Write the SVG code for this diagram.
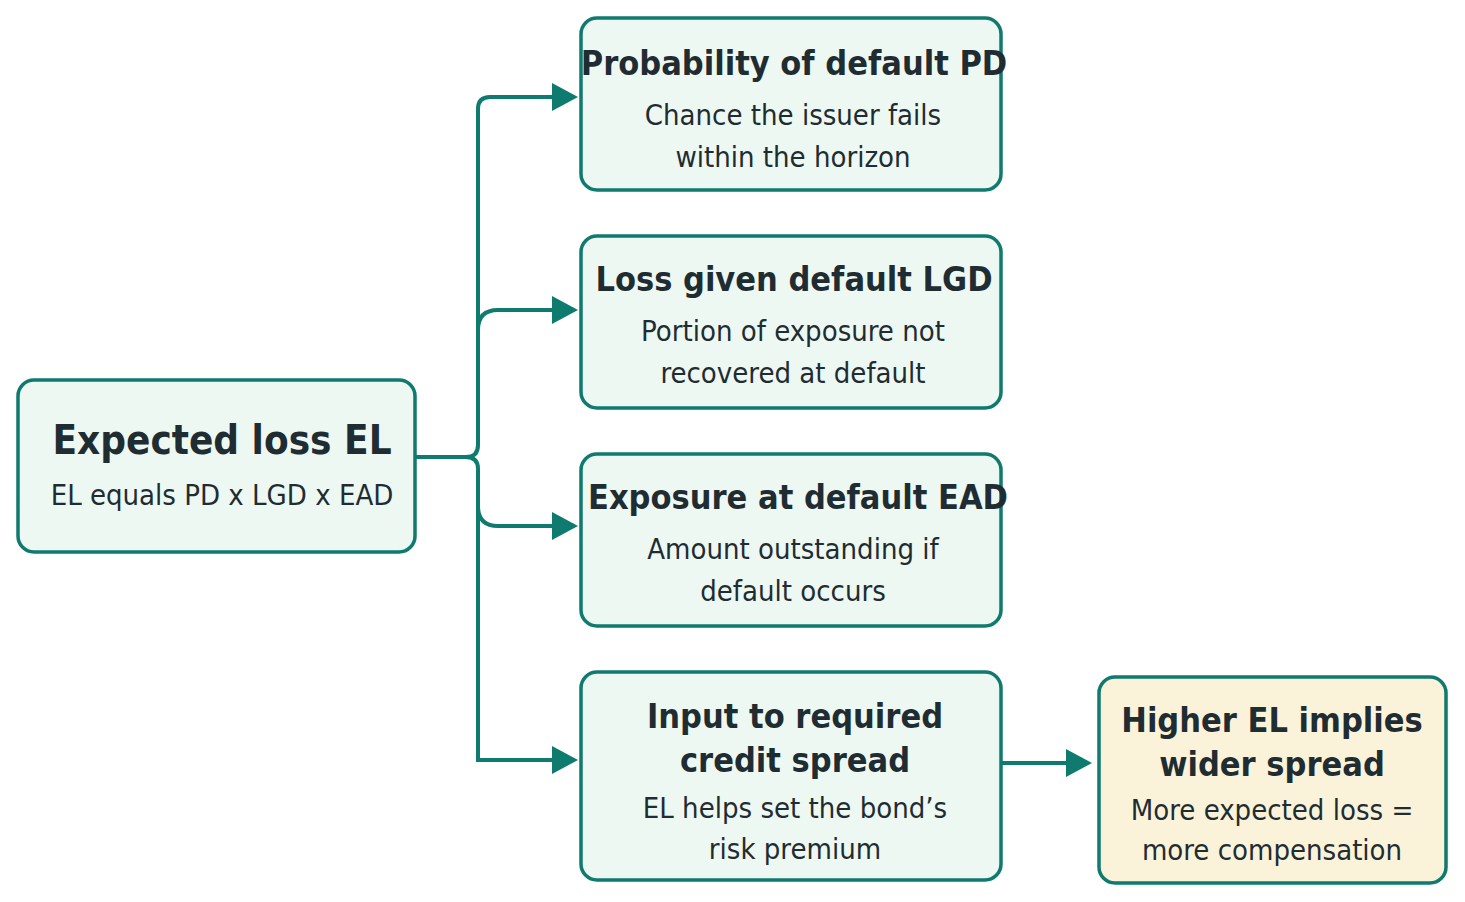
<svg xmlns="http://www.w3.org/2000/svg" width="1465" height="902" viewBox="0 0 1465 902">
<style>
.n{fill:#eef8f2;stroke:#0f7a6e;stroke-width:3.5}
.y{fill:#fbf3d9;stroke:#0f7a6e;stroke-width:3.5}
.t{font-family:"DejaVu Sans Condensed","Roboto",sans-serif;font-weight:bold;fill:#1f2d33;text-anchor:middle;font-size:34px}
.s{font-family:"DejaVu Sans Condensed","Roboto",sans-serif;fill:#1f2d33;text-anchor:middle;font-size:29px}
.c{fill:none;stroke:#0f7a6e;stroke-width:4}
.a{fill:#0f7a6e}
</style>
<g id="connectors">
<path class="c" d="M415,457 H466 Q478,457 478,445 V109 Q478,97 490,97 H555"/>
<path class="c" d="M478,330 Q478,310 498,310 H555"/>
<path class="c" d="M466,457 Q478,457 478,469 V760 Q478,760 490,760 H555"/>
<path class="c" d="M478,506 Q478,526 498,526 H555"/>
<path class="c" d="M1001,763 H1068"/>
<polygon class="a" points="552,83 578,97 552,111"/>
<polygon class="a" points="552,296 578,310 552,324"/>
<polygon class="a" points="552,512 578,526 552,540"/>
<polygon class="a" points="552,746 578,760 552,774"/>
<polygon class="a" points="1066,749 1092,763 1066,777"/>
</g>
<g id="el"><rect class="n" x="18" y="380" width="397" height="172" rx="16"/>
<text class="t" x="222" y="454" style="font-size:40px">Expected loss EL</text>
<text class="s" x="222" y="505">EL equals PD x LGD x EAD</text></g>
<g id="pd"><rect class="n" x="581" y="18" width="420" height="172" rx="16"/>
<text class="t" x="794" y="75">Probability of default PD</text>
<text class="s" x="793" y="125">Chance the issuer fails</text>
<text class="s" x="793" y="167">within the horizon</text></g>
<g id="lgd"><rect class="n" x="581" y="236" width="420" height="172" rx="16"/>
<text class="t" x="794" y="291">Loss given default LGD</text>
<text class="s" x="793" y="341">Portion of exposure not</text>
<text class="s" x="793" y="383">recovered at default</text></g>
<g id="ead"><rect class="n" x="581" y="454" width="420" height="172" rx="16"/>
<text class="t" x="798" y="509">Exposure at default EAD</text>
<text class="s" x="793" y="559">Amount outstanding if</text>
<text class="s" x="793" y="601">default occurs</text></g>
<g id="input"><rect class="n" x="581" y="672" width="420" height="208" rx="16"/>
<text class="t" x="795" y="728">Input to required</text>
<text class="t" x="795" y="772">credit spread</text>
<text class="s" x="795" y="818">EL helps set the bond’s</text>
<text class="s" x="795" y="859">risk premium</text></g>
<g id="higher"><rect class="y" x="1099" y="677" width="347" height="206" rx="16"/>
<text class="t" x="1272" y="732">Higher EL implies</text>
<text class="t" x="1272" y="776">wider spread</text>
<text class="s" x="1272" y="820">More expected loss =</text>
<text class="s" x="1272" y="860">more compensation</text></g>
</svg>
